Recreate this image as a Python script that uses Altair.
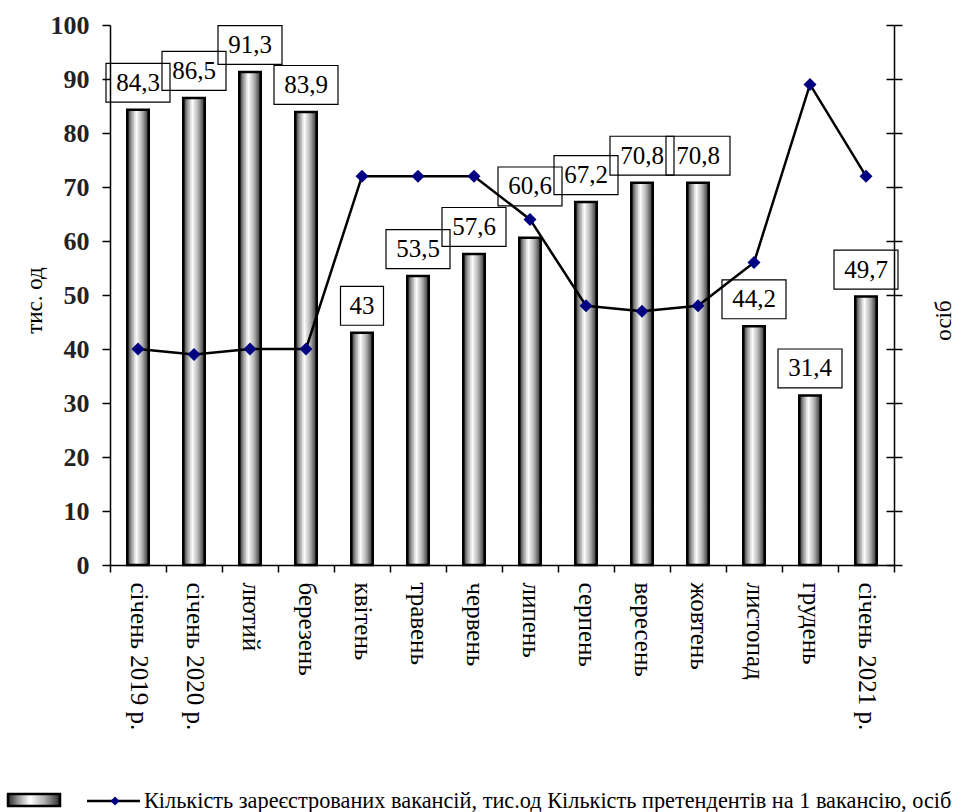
import altair as alt
import pandas as pd

months = ["січень 2019 р.", "січень 2020 р.", "лютий", "березень", "квітень",
          "травень", "червень", "липень", "серпень", "вересень", "жовтень",
          "листопад", "грудень", "січень 2021 р."]
vacancies = [84.3, 86.5, 91.3, 83.9, 43, 53.5, 57.6, 60.6, 67.2, 70.8, 70.8, 44.2, 31.4, 49.7]
applicants = [40, 39, 40, 40, 72, 72, 72, 64, 48, 47, 48, 56, 89, 72]
legend_labels = ["Кількість зареєстрованих вакансій, тис.од",
                 "Кількість претендентів на 1 вакансію, осіб"]
y_ticks = list(range(0, 101, 10))

SERIF = "Liberation Serif"


def fmt(v):
    return ("%g" % v).replace(".", ",")


df = pd.DataFrame({
    "month": months,
    "vac": vacancies,
    "app": applicants,
})
df["label"] = [fmt(v) for v in vacancies]
df["bw"] = [64 if len(l) > 2 else 43 for l in df["label"]]
# label box sits just above the bar; lifted above the marker when they collide
base = df["vac"] + 1.4
collide = (df["app"] > df["vac"]) & (df["app"] < df["vac"] + 9)
df["ybot"] = base.where(~collide, df["app"] + 2.5)
df["ytop"] = df["ybot"] + 7.2
df["ylab"] = df["ybot"] + 3.6

xenc = alt.X("month:N", sort=months,
             scale=alt.Scale(paddingInner=0, paddingOuter=0),
             axis=alt.Axis(title=None, labelAngle=90, labelAlign="left",
                           labelBaseline="middle", labelFont=SERIF,
                           labelFontSize=25, labelColor="black",
                           labelPadding=10, tickBand="extent", tickSize=7,
                           tickColor="black", domainColor="black",
                           domainWidth=1.5, tickWidth=1.5, grid=False))

yscale = alt.Scale(domain=[0, 100], nice=False, zero=True)

bar_grad = alt.Gradient(
    gradient="linear", x1=0, x2=1, y1=0, y2=0,
    stops=[alt.GradientStop(offset=0, color="#2b2b2b"),
           alt.GradientStop(offset=0.2, color="#9a9a9a"),
           alt.GradientStop(offset=0.42, color="#ffffff"),
           alt.GradientStop(offset=0.7, color="#b0b0b0"),
           alt.GradientStop(offset=1, color="#2b2b2b")])

bars = alt.Chart(df).mark_bar(size=21.5, color=bar_grad, stroke="black",
                              strokeWidth=2.5).encode(
    x=xenc,
    y=alt.Y("vac:Q", scale=yscale,
            axis=alt.Axis(orient="left", values=y_ticks, title="тис. од",
                          titleAngle=270, titleFont=SERIF, titleFontSize=23,
                          titleFontWeight="normal", titleColor="black",
                          titleX=-76, titleY=275, titleAlign="center",
                          titleBaseline="middle",
                          labelFont=SERIF, labelFontSize=26,
                          labelFontWeight="bold", labelColor="#222",
                          labelPadding=13, tickSize=8, tickColor="black",
                          tickWidth=1.5, domainColor="black", domainWidth=1.5,
                          grid=False)),
)

line_base = alt.Chart(df).encode(
    x=alt.X("month:N", sort=months),
    y=alt.Y("app:Q", scale=yscale,
            axis=alt.Axis(orient="right", values=y_ticks, labels=False,
                          title="осіб", titleAngle=270, titleFont=SERIF,
                          titleFontSize=23, titleFontWeight="normal",
                          titleColor="black", titleX=49, titleY=295,
                          titleAlign="center", titleBaseline="middle",
                          tickSize=8, tickColor="black", tickWidth=1.5,
                          domainColor="black", domainWidth=1.5, grid=False)),
)
line = line_base.mark_line(color="black", strokeWidth=2.5)
pts = line_base.mark_point(shape="diamond", filled=True, color="#000080",
                           size=170, opacity=1)
line_layer = alt.layer(line, pts)

# inner half of the crossing ticks on the right axis
inner_ticks = alt.Chart(df).mark_point(opacity=0).encode(
    x=alt.X("month:N", sort=months),
    y=alt.Y("app:Q", scale=yscale,
            axis=alt.Axis(orient="right", values=y_ticks, labels=False,
                          title=None, domain=False, offset=-8, tickSize=8,
                          tickColor="black", tickWidth=1.5, grid=False)),
)

boxes = alt.Chart(df).mark_bar(fill="white", fillOpacity=0, stroke="black",
                               strokeWidth=1.2).encode(
    x=alt.X("month:N", sort=months),
    y=alt.Y("ybot:Q", scale=yscale, axis=None),
    y2="ytop:Q",
    size=alt.Size("bw:Q", scale=None, legend=None),
)
texts = alt.Chart(df).mark_text(font=SERIF, fontSize=25, color="black",
                                baseline="middle").encode(
    x=alt.X("month:N", sort=months),
    y=alt.Y("ylab:Q", scale=yscale, axis=None),
    text="label:N",
)
label_layer = alt.layer(boxes, texts)

one = pd.DataFrame({"t": [legend_labels[0] + " " + legend_labels[1]]})
leg_swatch = alt.Chart(one).mark_rect(color=bar_grad, stroke="black",
                                       strokeWidth=2.5).encode(
    x=alt.value(-102), x2=alt.value(-50), y=alt.value(769), y2=alt.value(781))
leg_rule = alt.Chart(one).mark_rule(color="black", strokeWidth=2.5).encode(
    x=alt.value(-23), x2=alt.value(30), y=alt.value(776))
leg_pt = alt.Chart(one).mark_point(shape="diamond", filled=True,
                                   color="#000080", size=80, opacity=1).encode(
    x=alt.value(5), y=alt.value(776))
leg_text = alt.Chart(one).mark_text(font=SERIF, fontSize=22.3, color="black",
                                    align="left", baseline="middle").encode(
    x=alt.value(34), y=alt.value(776), text="t:N")

chart = alt.layer(bars, line_layer, inner_ticks, label_layer,
                  leg_swatch, leg_rule, leg_pt, leg_text).resolve_scale(
    y="independent").properties(
    width=784, height=540,
    autosize=alt.AutoSizeParams(type="none"),
    padding={"left": 110, "top": 25, "right": 71, "bottom": 247},
    background="white",
).configure_view(stroke=None)

chart.save("out.html", embed_options={"renderer": "svg", "actions": False})
